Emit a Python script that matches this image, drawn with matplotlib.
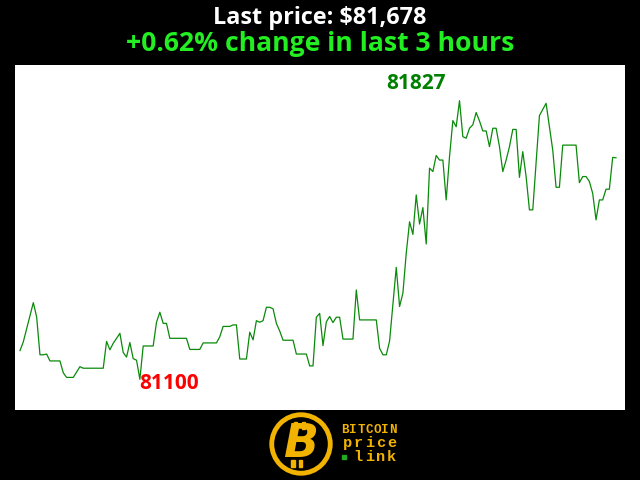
import matplotlib
matplotlib.use("Agg")
import matplotlib.pyplot as plt
from matplotlib.patches import Circle, Rectangle

# minutes since start of the 3-hour window, and price at that minute (vertices of the line)
minutes = [0, 1, 4, 5, 6, 7, 8, 9, 12, 13, 14, 16, 18, 19, 25, 26, 27, 28, 30, 31,
           32, 33, 34, 35, 36, 37, 40, 41, 42, 43, 44, 45, 50, 51, 54, 55, 59, 60, 61, 63,
           64, 65, 66, 68, 69, 70, 71, 72, 73, 74, 75, 76, 77, 78, 79, 82, 83, 86, 87, 88,
           89, 90, 91, 92, 93, 94, 95, 96, 97, 100, 101, 102, 107, 108, 109, 110, 111, 113, 114, 115,
           116, 117, 118, 119, 120, 121, 122, 123, 124, 125, 126, 127, 128, 129, 130, 131, 132, 133, 134, 135,
           136, 137, 138, 139, 140, 141, 142, 143, 144, 145, 146, 147, 148, 149, 150, 151, 152, 153, 154, 155,
           156, 158, 159, 160, 161, 162, 163, 167, 168, 169, 170, 171, 172, 173, 174, 175, 176, 177, 178, 179]
prices = [81175, 81198, 81300, 81263, 81164, 81164, 81166, 81148, 81148, 81117,
          81105, 81105, 81133, 81129, 81129, 81199, 81177, 81194, 81220, 81170,
          81158, 81196, 81154, 81150, 81100, 81187, 81187, 81249, 81275, 81246,
          81246, 81207, 81207, 81178, 81178, 81195, 81195, 81211, 81238, 81238,
          81242, 81242, 81153, 81153, 81223, 81203, 81253, 81249, 81253, 81288,
          81288, 81284, 81246, 81226, 81202, 81202, 81166, 81166, 81135, 81135,
          81262, 81272, 81188, 81250, 81264, 81248, 81262, 81262, 81205, 81205,
          81333, 81255, 81255, 81181, 81164, 81164, 81200, 81392, 81290, 81325,
          81429, 81511, 81478, 81581, 81505, 81548, 81453, 81651, 81642, 81684,
          81672, 81672, 81568, 81681, 81775, 81759, 81827, 81733, 81729, 81755,
          81764, 81796, 81774, 81748, 81748, 81707, 81755, 81755, 81707, 81642,
          81672, 81707, 81752, 81752, 81627, 81694, 81629, 81542, 81542, 81664,
          81788, 81820, 81759, 81698, 81601, 81601, 81711, 81711, 81613, 81629,
          81629, 81616, 81585, 81516, 81568, 81568, 81596, 81596, 81679, 81678]

last_price = 81678
change_pct = 0.62
hours = 3

GOLD = "#f2b200"

fig = plt.figure(figsize=(6.4, 4.8), dpi=100, facecolor="black")
ax = fig.add_axes([15 / 640, 70 / 480, 610 / 640, 345 / 480])
ax.set_facecolor("white")
ax.plot(minutes, prices, color="#0a8a0a", lw=0.9)
ax.set_xlim(-1.5, 181.7)
ax.set_ylim(81020, 81920)
ax.set_xticks([]); ax.set_yticks([])
for s in ax.spines.values():
    s.set_visible(False)

# label the extremes
hi = prices.index(max(prices))
lo = prices.index(min(prices))
ax.annotate(f"{max(prices)}", (minutes[hi], prices[hi]), xytext=(-44, 17),
            textcoords="offset pixels", ha="center", va="center",
            color="#008000", fontsize=15, fontweight="bold", family="Open Sans")
ax.annotate(f"{min(prices)}", (minutes[lo], prices[lo]), xytext=(29, -4),
            textcoords="offset pixels", ha="center", va="center",
            color="red", fontsize=15, fontweight="bold", family="Open Sans")

fig.text(0.5, 1 - 18 / 480, f"Last price: ${last_price:,}", color="white",
         ha="center", va="center", fontsize=16.8, fontweight="bold", family="Open Sans")
fig.text(0.5, 1 - 44 / 480, f"+{change_pct:.2f}% change in last {hours} hours",
         color="#22ee22", ha="center", va="center", fontsize=19.1,
         fontweight="bold", family="Open Sans")

# logo at the bottom
lx, ly = 301 / 640, 1 - 444 / 480
logo = fig.add_axes([lx - 34 / 640, ly - 34 / 480, 68 / 640, 68 / 480])
logo.set_xlim(-1, 1); logo.set_ylim(-1, 1); logo.set_aspect("equal")
logo.axis("off")
logo.add_patch(Circle((0, 0), 0.86, facecolor="black", edgecolor=GOLD, lw=3.5))
for bx in (-0.2, 0.02):
    logo.add_patch(Rectangle((bx, 0.45), 0.09, 0.2, color=GOLD))
    logo.add_patch(Rectangle((bx - 0.08, -0.67), 0.09, 0.2, color=GOLD))
logo.text(0.0, -0.02, "B", color=GOLD, fontsize=33, fontweight="bold",
          ha="center", va="center", family="DejaVu Sans", style="italic")

# logo wordmark, one glyph at a time to get the wide letter spacing
def spaced(word, x0, y, step, size, color=GOLD):
    for k, ch in enumerate(word):
        fig.text((x0 + k * step) / 640, 1 - y / 480, ch, color=color, fontsize=size,
                 fontweight="bold", family="Liberation Mono", ha="center", va="center")

spaced("BITCOIN", 345, 430, 8.0, 9)
spaced("price", 347, 443, 11.2, 11)
fig.patches.append(Rectangle((342 / 640, 1 - 459 / 480), 4 / 640, 4 / 480,
                             color="#22aa22", transform=fig.transFigure, figure=fig))
spaced("link", 358, 457, 11.2, 11)

fig.savefig("out.png", dpi=100, facecolor="black")
